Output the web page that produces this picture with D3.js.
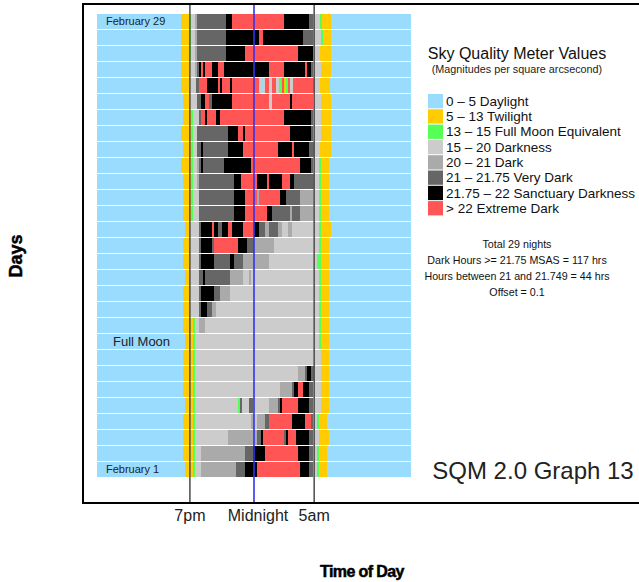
<!DOCTYPE html>
<html>
<head>
<meta charset="utf-8">
<script src="https://cdn.jsdelivr.net/npm/d3@7"></script>
<style>
  body { margin: 0; background: #fff; }
  text { font-family: "Liberation Sans", Arial, Helvetica, sans-serif; }
</style>
</head>
<body>
<script>
// Days, top row is the last night of the month
var days = [29, 28, 27, 26, 25, 24, 23, 22, 21, 20, 19, 18, 17, 16, 15,
            14, 13, 12, 11, 10, 9, 8, 7, 6, 5, 4, 3, 2, 1];

// SQM categories (legend order) and their colours
var categories = ["0 \u2013 5 Daylight", "5 \u2013 13 Twilight", "13 \u2013 15 Full Moon Equivalent",
                  "15 \u2013 20 Darkness", "20 \u2013 21 Dark", "21 \u2013 21.75 Very Dark",
                  "21.75 \u2013 22 Sanctuary Darkness", "> 22 Extreme Dark"];
var colors = ["#99dcfd", "#ffcc00", "#55ff55", "#cccccc", "#aaaaaa", "#666666", "#000000", "#ff5555"];

// One list per night: [start, category], start in hours after noon.
// Each segment runs until the next start (or the next noon).
var nights = [
  [[6.42,1],[7.05,2],[7.18,3],[7.49,4],[7.64,5],[9.86,6],[10.32,7],[14.29,6],[16.18,5],[16.49,4],[16.66,3],[17.04,2],[17.17,1],[17.89,0]],
  [[6.42,1],[7.05,2],[7.18,3],[7.49,4],[7.64,5],[9.86,6],[12.36,7],[12.67,6],[15.75,5],[16.49,4],[16.66,3],[17.12,2],[17.25,1],[17.89,0]],
  [[6.42,1],[7.05,2],[7.18,3],[7.49,4],[7.64,5],[9.86,6],[11.31,7],[15.36,6],[16.51,4],[16.66,3],[17.04,1],[17.89,0]],
  [[6.42,1],[7.05,3],[7.49,4],[7.64,5],[7.77,6],[7.95,7],[8.08,6],[8.26,7],[8.79,6],[9.25,7],[9.68,6],[13.15,7],[14.29,6],[15.90,7],[16.05,6],[16.34,5],[16.54,3],[17.12,1],[17.87,0]],
  [[6.42,1],[7.11,3],[7.56,5],[7.77,7],[8.41,6],[9.25,7],[9.40,6],[9.55,7],[10.17,6],[10.32,7],[12.38,3],[12.59,0],[12.72,3],[12.84,7],[13.15,3],[13.35,7],[13.68,3],[13.93,2],[14.11,7],[14.29,1],[14.45,2],[14.60,7],[14.75,3],[15.00,7],[16.66,3],[17.04,1],[17.81,0]],
  [[6.60,1],[7.11,3],[7.62,5],[7.95,6],[8.26,7],[8.56,5],[8.77,6],[10.32,7],[13.15,3],[13.38,7],[14.75,6],[14.90,7],[16.54,3],[17.12,1],[17.87,0]],
  [[6.60,1],[7.18,2],[7.31,3],[7.77,5],[7.95,7],[8.26,6],[8.41,7],[9.10,6],[9.40,7],[14.26,6],[16.36,5],[16.54,3],[17.12,1],[17.87,0]],
  [[6.42,1],[7.18,2],[7.31,3],[7.62,5],[9.99,6],[10.78,7],[11.13,6],[11.31,7],[14.75,6],[16.36,5],[16.51,3],[17.12,1],[17.89,0]],
  [[6.60,1],[7.18,2],[7.31,3],[7.62,5],[7.95,6],[8.08,5],[9.99,6],[11.13,7],[13.81,6],[14.88,7],[15.04,6],[16.18,5],[16.56,3],[17.04,1],[17.89,0]],
  [[6.42,1],[7.18,2],[7.31,3],[7.62,4],[7.82,5],[7.95,6],[8.08,5],[9.68,6],[11.77,7],[15.52,6],[16.36,5],[16.51,3],[16.95,2],[17.12,1],[17.76,0]],
  [[6.60,1],[7.18,2],[7.31,3],[7.62,4],[7.79,5],[10.47,6],[11.01,7],[12.23,6],[12.99,7],[13.15,6],[14.14,7],[14.75,6],[15.06,5],[16.59,3],[16.97,2],[17.12,1],[17.73,0]],
  [[6.60,1],[7.18,2],[7.31,3],[7.77,5],[10.47,6],[11.31,7],[12.23,4],[12.38,7],[13.99,6],[14.45,5],[15.52,4],[16.59,3],[16.97,2],[17.12,1],[17.73,0]],
  [[6.60,1],[7.18,2],[7.31,3],[7.77,5],[10.47,6],[11.31,7],[12.99,6],[13.38,5],[14.75,4],[14.90,5],[15.52,4],[16.59,3],[16.97,2],[17.12,1],[17.73,0]],
  [[6.73,1],[7.11,3],[7.77,5],[7.95,6],[8.79,7],[8.94,6],[9.25,5],[9.55,6],[10.01,7],[10.32,6],[11.16,7],[12.00,6],[12.38,5],[12.84,4],[13.15,5],[13.83,4],[14.14,3],[14.60,4],[14.90,3],[16.97,2],[17.12,1],[17.89,0]],
  [[6.60,1],[7.11,3],[7.77,5],[7.95,6],[8.79,5],[8.94,7],[10.78,6],[11.47,5],[12.00,4],[13.53,3],[16.97,2],[17.12,1],[17.73,0]],
  [[6.60,1],[7.11,3],[7.77,5],[7.95,6],[8.92,5],[10.17,6],[10.47,5],[11.16,4],[13.15,3],[16.80,2],[17.12,1],[17.73,0]],
  [[6.73,1],[7.11,3],[7.77,5],[8.08,6],[8.26,5],[10.17,4],[11.16,3],[11.62,4],[11.77,3],[16.97,2],[17.12,1],[17.73,0]],
  [[6.60,1],[7.11,3],[7.77,5],[7.95,6],[8.92,5],[9.40,4],[10.17,3],[16.97,2],[17.12,1],[17.73,0]],
  [[6.60,1],[7.11,3],[7.77,5],[7.95,6],[8.41,5],[8.79,4],[9.10,3],[16.97,2],[17.12,1],[17.73,0]],
  [[6.60,1],[7.31,2],[7.49,3],[7.77,4],[8.26,3],[16.97,2],[17.12,1],[17.73,0]],
  [[6.73,1],[7.34,2],[7.49,3],[16.97,2],[17.12,1],[17.73,0]],
  [[6.60,1],[7.34,2],[7.49,3],[17.12,1],[17.73,0]],
  [[6.60,1],[7.34,2],[7.49,3],[15.36,4],[15.90,5],[16.05,6],[16.36,5],[16.59,3],[17.12,1],[17.73,0]],
  [[6.60,1],[7.34,2],[7.49,3],[13.99,4],[14.90,5],[15.06,6],[15.36,7],[15.75,6],[16.20,5],[16.51,3],[17.12,1],[17.73,0]],
  [[6.73,1],[7.34,2],[7.49,3],[10.78,2],[10.93,5],[11.08,3],[11.62,5],[11.92,3],[13.15,4],[13.83,5],[13.99,6],[14.14,7],[15.36,6],[16.20,5],[16.51,3],[17.12,1],[17.73,0]],
  [[6.60,1],[7.34,2],[7.49,3],[11.77,4],[12.00,3],[12.23,4],[12.84,5],[13.15,7],[14.90,6],[15.90,7],[16.36,5],[16.51,3],[16.82,2],[16.97,1],[17.58,0]],
  [[6.60,1],[7.34,2],[7.49,3],[10.01,4],[12.23,5],[12.54,6],[12.69,7],[14.29,5],[14.45,6],[14.60,7],[15.21,6],[16.20,5],[16.51,3],[16.97,1],[17.73,0]],
  [[6.60,1],[7.34,2],[7.49,3],[7.95,4],[11.31,5],[11.92,6],[12.84,7],[15.36,6],[16.20,5],[16.51,3],[16.82,2],[16.97,1],[17.58,0]],
  [[6.73,1],[7.34,2],[7.49,3],[7.95,4],[10.62,5],[11.31,6],[12.23,7],[15.52,6],[16.20,5],[16.51,3],[16.82,2],[16.97,1],[17.58,0]]
];

// Guide lines (hours after noon, as drawn) and their labels
var guideHours = [7.1, 12, 16.6];
var guideLabels = ["7pm", "Midnight", "5am"];
var guideColors = ["#555", "#3333ee", "#555"];

// Notes written inside a few rows
var noteDays = [29, 9, 1];
var noteTexts = ["February 29", "Full Moon", "February 1"];

var stats = ["Total 29 nights", "Dark Hours >= 21.75 MSAS = 117 hrs",
             "Hours between 21 and 21.749 = 44 hrs", "Offset = 0.1"];

var width = 639, height = 582;

var svg = d3.select("body").append("svg")
    .attr("width", width)
    .attr("height", height);

// scales
var x = d3.scaleLinear().domain([0, 24]).range([97, 411]);
var y = d3.scaleBand().domain(days).range([14, 477]).paddingInner(1 / 16).round(true);

// rows
var rows = svg.append("g")
    .attr("shape-rendering", "crispEdges")
    .selectAll("g")
    .data(nights)
    .enter().append("g")
    .attr("transform", (d, i) => `translate(0, ${y(days[i])})`);

rows.append("rect")
    .attr("x", x(0))
    .attr("width", x(24) - x(0))
    .attr("height", y.bandwidth())
    .attr("fill", colors[0]);

rows.selectAll("rect.seg")
    .data(function(d) {
        return d.map(function(s, j) {
            var end = j < d.length - 1 ? d[j + 1][0] : 24;
            return { start: s[0], end: end, cat: s[1] };
        });
    })
    .enter().append("rect")
    .attr("class", "seg")
    .attr("x", d => x(d.start))
    .attr("width", d => Math.max(0, x(d.end) - x(d.start)))
    .attr("height", y.bandwidth())
    .attr("fill", d => colors[d.cat]);

// notes inside rows
svg.selectAll("text.note")
    .data(noteDays)
    .enter().append("text")
    .attr("class", "note")
    .attr("x", (d, i) => i == 1 ? 113 : 106)
    .attr("y", (d, i) => y(d) + y.bandwidth() / 2 + (i == 1 ? 4.6 : 3.9))
    .attr("font-size", (d, i) => i == 1 ? 13 : 11)
    .attr("fill", "#222")
    .text((d, i) => noteTexts[i]);

// frame
var frame = svg.append("g").attr("stroke", "#000");
frame.append("line").attr("x1", 82).attr("x2", 645).attr("y1", 4).attr("y2", 4).attr("stroke-width", 2);
frame.append("line").attr("x1", 82).attr("x2", 645).attr("y1", 503).attr("y2", 503).attr("stroke-width", 2);
frame.append("line").attr("x1", 83).attr("x2", 83).attr("y1", 3).attr("y2", 504).attr("stroke-width", 2);

// guide lines
svg.selectAll("line.guide")
    .data(guideHours)
    .enter().append("line")
    .attr("class", "guide")
    .attr("x1", d => x(d)).attr("x2", d => x(d))
    .attr("y1", 5).attr("y2", 502)
    .attr("stroke", (d, i) => guideColors[i])
    .attr("stroke-width", 1.6);

svg.selectAll("text.guide")
    .data(guideHours)
    .enter().append("text")
    .attr("class", "guide")
    .attr("x", d => x(d))
    .attr("dx", (d, i) => i == 1 ? 4 : 0)
    .attr("y", 521)
    .attr("text-anchor", "middle")
    .attr("font-size", 16)
    .attr("fill", "#222")
    .text((d, i) => guideLabels[i]);

// axis titles
svg.append("text")
    .attr("x", 362).attr("y", 577)
    .attr("text-anchor", "middle")
    .attr("font-size", 16).attr("font-weight", "bold")
    .attr("letter-spacing", -0.6)
    .attr("stroke", "#000").attr("stroke-width", 0.5)
    .text("Time of Day");

svg.append("text")
    .attr("transform", "translate(22, 256) rotate(-90)")
    .attr("text-anchor", "middle")
    .attr("font-size", 18).attr("font-weight", "bold")
    .attr("stroke", "#000").attr("stroke-width", 0.5)
    .text("Days");

// legend
var legend = svg.append("g").attr("transform", "translate(428, 94)");

svg.append("text")
    .attr("x", 517).attr("y", 59)
    .attr("text-anchor", "middle")
    .attr("font-size", 16).attr("fill", "#111")
    .text("Sky Quality Meter Values");

svg.append("text")
    .attr("x", 517).attr("y", 73)
    .attr("text-anchor", "middle")
    .attr("font-size", 10.8).attr("fill", "#222")
    .text("(Magnitudes per square arcsecond)");

var item = legend.selectAll("g")
    .data(categories)
    .enter().append("g")
    .attr("transform", (d, i) => `translate(0, ${i * 15.3})`);

item.append("rect")
    .attr("width", 15).attr("height", 14.3)
    .attr("fill", (d, i) => colors[i]);

item.append("text")
    .attr("x", 18).attr("y", 11.8)
    .attr("font-size", 13.5).attr("fill", "#111")
    .text(d => d);

// stats
svg.selectAll("text.stat")
    .data(stats)
    .enter().append("text")
    .attr("class", "stat")
    .attr("x", 517)
    .attr("y", (d, i) => 248 + i * 16)
    .attr("text-anchor", "middle")
    .attr("font-size", 10.7).attr("fill", "#111")
    .text(d => d);

svg.append("text")
    .attr("x", 533).attr("y", 479)
    .attr("text-anchor", "middle")
    .attr("font-size", 24).attr("fill", "#222")
    .text("SQM 2.0 Graph 13");
</script>
</body>
</html>
